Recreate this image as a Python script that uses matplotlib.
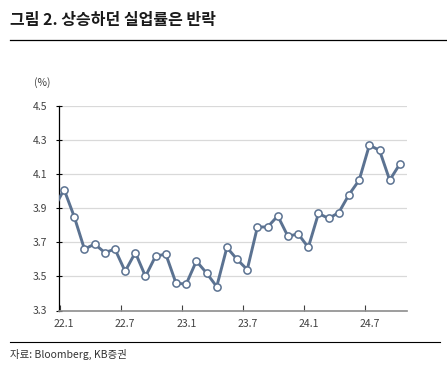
import matplotlib
matplotlib.use('Agg')
import matplotlib.pyplot as plt
import numpy as np

plt.rcParams['font.family'] = ['Noto Sans CJK KR', 'DejaVu Sans']

# monthly US unemployment rate, 21.12 ~ 24.10
months = ['21.12',
          '22.1', '22.2', '22.3', '22.4', '22.5', '22.6', '22.7', '22.8', '22.9', '22.10', '22.11', '22.12',
          '23.1', '23.2', '23.3', '23.4', '23.5', '23.6', '23.7', '23.8', '23.9', '23.10', '23.11', '23.12',
          '24.1', '24.2', '24.3', '24.4', '24.5', '24.6', '24.7', '24.8', '24.9', '24.10']
rate = [3.90,
        4.01, 3.85, 3.66, 3.69, 3.64, 3.66, 3.53, 3.64, 3.50, 3.62, 3.63, 3.46,
        3.455, 3.59, 3.52, 3.44, 3.67, 3.60, 3.54, 3.79, 3.79, 3.855, 3.735, 3.75,
        3.67, 3.87, 3.84, 3.875, 3.98, 4.065, 4.27, 4.24, 4.065, 4.16]
tick_labels = ['22.1', '22.7', '23.1', '23.7', '24.1', '24.7']
yticks = [3.3, 3.5, 3.7, 3.9, 4.1, 4.3, 4.5]

x = np.arange(len(months)) - 1  # 22.1 -> 0
line_c = '#5b7291'

fig = plt.figure(figsize=(4.47, 3.68), dpi=100)
ax = fig.add_axes([59 / 447, 1 - 310.5 / 368, (407 - 59) / 447, (310.5 - 106) / 368])

ax.plot(x, rate, color=line_c, lw=2.1, marker='o', ms=5.2, mfc='white',
        mec=line_c, mew=1.1, zorder=3, clip_on=True)

ax.set_xlim(-0.5, 33.7)
ax.set_ylim(3.3, 4.5)
ax.set_yticks(yticks)
ax.set_yticklabels(['%.1f' % v for v in yticks], fontsize=7.5, color='#404040')
for v in yticks[1:]:
    ax.axhline(v, color='#d9d9d9', lw=0.9, zorder=1)

lab_pos = [months.index(t) - 1 for t in tick_labels]
ax.set_xticks(lab_pos)
ax.set_xticklabels(tick_labels, fontsize=7.5, color='#404040')
ax.tick_params(axis='x', which='major', length=0, pad=6)
ax.set_xticks(np.array(lab_pos) - 0.38, minor=True)
ax.tick_params(axis='x', which='minor', direction='in', length=4, width=0.8, color='#404040')
ax.tick_params(axis='y', direction='inout', length=5, width=0.8, color='black', pad=6)

for s in ['top', 'right']:
    ax.spines[s].set_visible(False)
ax.spines['left'].set_color('black')
ax.spines['left'].set_linewidth(0.9)
ax.spines['bottom'].set_color('#8c8c8c')
ax.spines['bottom'].set_linewidth(1.2)

fig.text(42 / 447, 1 - 83 / 368, '(%)', fontsize=7.5, color='#404040', ha='center', va='center')

fig.text(10 / 447, 1 - 20 / 368, '그림 2. 상승하던 실업률은 반락', fontsize=11.5,
         fontweight='bold', color='#1a1a1a', ha='left', va='center')
fig.add_artist(plt.Line2D([10 / 447, 1.0], [1 - 39.5 / 368] * 2, color='black', lw=0.9))
fig.add_artist(plt.Line2D([10 / 447, 440 / 447], [1 - 342 / 368] * 2, color='black', lw=0.8))
fig.text(10 / 447, 1 - 354 / 368, '자료: Bloomberg, KB증권', fontsize=7.5, color='#333333',
         ha='left', va='center')

fig.savefig('out.png', dpi=100)
